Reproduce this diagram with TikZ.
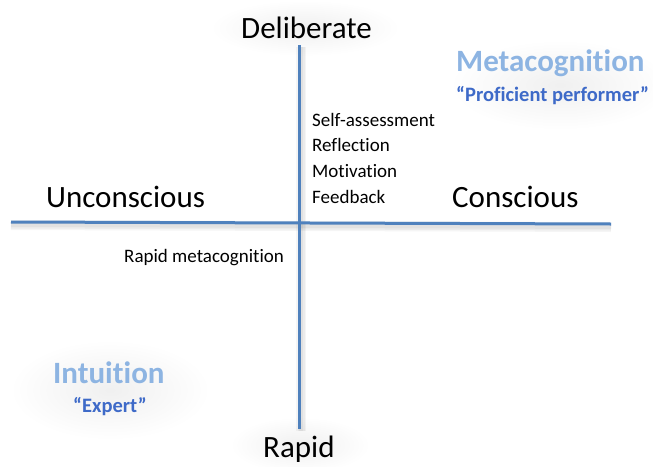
\documentclass[tikz,border=0pt]{standalone}
\usepackage{fontspec}
\setmainfont{Carlito}[Ligatures={NoCommon}]
\definecolor{axis}{RGB}{79,129,189}
\definecolor{lightblue}{RGB}{141,180,226}
\definecolor{midblue}{RGB}{62,106,200}
\tikzset{
  big/.style={inner sep=0pt, anchor=base west, font=\fontsize{31}{37}\selectfont, text=black},
  bigblue/.style={inner sep=0pt, anchor=base west, font=\fontsize{31}{37}\selectfont\bfseries, text=lightblue},
  subblue/.style={inner sep=0pt, anchor=base west, font=\fontsize{20.5}{24}\selectfont\bfseries, text=midblue},
  small/.style={inner sep=0pt, anchor=base west, font=\fontsize{19}{23}\selectfont, text=black},
  axisline/.style={draw=axis, line width=3pt},
  shadowline/.style={draw=black, line width=#1, opacity=0.04},
  glow/.style={inner color=black!6, outer color=white}
}
\begin{document}
\begin{tikzpicture}[x=1pt,y=-1pt]
\useasboundingbox (0,0) rectangle (653,466);
\fill[white] (0,0) rectangle (653,466);
% soft background glows
\shade[glow] (560,85) ellipse [x radius=110, y radius=45];
\shade[glow] (110,390) ellipse [x radius=100, y radius=50];
\shade[glow] (305,28) ellipse [x radius=95, y radius=28];
\shade[glow] (300,445) ellipse [x radius=70, y radius=28];
\fill[white] (0,0) rectangle (653,2);
% coordinates of the axes
\coordinate (hl) at (11,222);
\coordinate (hr) at (611,224);
\coordinate (vt) at (299,45);
\coordinate (vb) at (299,429);
% shadows of the axes
\foreach \w in {4,7,10}{
  \draw[shadowline=\w pt] ([yshift=-3pt]hl) -- ([yshift=-3pt]hr);
  \draw[shadowline=\w pt] ([xshift=2pt,yshift=-2pt]vt) -- ([xshift=2pt,yshift=-2pt]vb);
}
\draw[axisline] (hl) -- (hr);
\draw[axisline] (vt) -- (vb);
% labels
\node[big] (delib) at (241,38) {Deliberate};
\node[big] (uncon) at (46,207) {Unconscious};
\node[big] (consc) at (452,207) {Conscious};
\node[big] (rapid) at (263,457) {Rapid};
\node[bigblue] (meta) at (456,71) {Metacognition};
\node[subblue] (prof) at (456,101) {“Proficient performer”};
\node[bigblue] (intu) at (53,383) {Intuition};
\node[subblue] (expert) at (73,412) {“Expert”};
\node[small] (self) at (312,126) {Self-assessment};
\node[small] (refl) at (312,151.7) {Reflection};
\node[small] (moti) at (312,177.3) {Motivation};
\node[small] (feed) at (312,203) {Feedback};
\node[small] (rapm) at (124,262) {Rapid metacognition};
\end{tikzpicture}
\end{document}
